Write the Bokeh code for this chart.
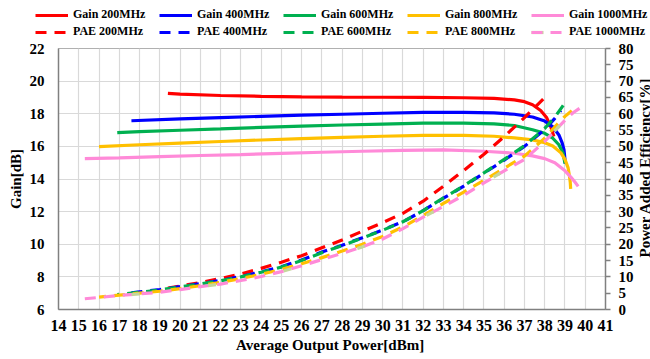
import math
from bokeh.plotting import figure
from bokeh.layouts import column, row
from bokeh.models import (Range1d, LinearAxis, SingleIntervalTicker, Legend, LegendItem, Label)
from bokeh.embed import file_html
from bokeh.resources import INLINE

FONT = "Liberation Serif"

# ---------------- data ----------------
freq_labels = ["200MHz", "400MHz", "600MHz", "800MHz", "1000MHz"]
series_colors = ["#ff0000", "#0000ff", "#00b050", "#ffc000", "#ff8ad8"]

gain200_x = [19.4, 20, 22, 24, 26, 28, 30, 32, 34, 35.5, 36.5, 37.0, 37.4, 37.8, 38.1, 38.3, 38.45]
gain200_y = [19.25, 19.2, 19.12, 19.07, 19.04, 19.02, 19.01, 19.0, 18.98, 18.94, 18.85, 18.74, 18.55, 18.2, 17.75, 17.2, 16.6]

gain400_x = [17.6, 20, 22, 24, 26, 28, 30, 32, 34, 35.5, 36.5, 37.4, 38.0, 38.4, 38.7, 38.85, 38.95, 39.02]
gain400_y = [17.57, 17.68, 17.76, 17.84, 17.91, 17.97, 18.03, 18.08, 18.08, 18.05, 17.97, 17.8, 17.55, 17.2, 16.7, 16.25, 15.8, 14.95]

gain600_x = [16.9, 18, 20, 22, 24, 26, 28, 30, 32, 34, 35.5, 36.5, 37.4, 38.0, 38.4, 38.7, 38.9, 39.0]
gain600_y = [16.84, 16.9, 16.99, 17.07, 17.16, 17.24, 17.31, 17.37, 17.42, 17.43, 17.38, 17.28, 17.02, 16.8, 16.5, 16.1, 15.6, 14.95]

gain800_x = [16.0, 18, 20, 22, 24, 26, 28, 30, 32, 34, 35.5, 36.5, 37.4, 38.0, 38.4, 38.8, 39.0, 39.15, 39.22, 39.26, 39.28]
gain800_y = [15.98, 16.1, 16.2, 16.3, 16.39, 16.47, 16.55, 16.62, 16.68, 16.68, 16.62, 16.52, 16.4, 16.22, 16.02, 15.6, 15.2, 14.7, 14.2, 13.8, 13.4]

gain1000_x = [15.3, 17, 19, 21, 23, 25, 27, 29, 31, 33, 35, 36.5, 37.4, 38.0, 38.5, 39.0, 39.3, 39.5, 39.65]
gain1000_y = [15.25, 15.3, 15.37, 15.44, 15.5, 15.57, 15.64, 15.7, 15.76, 15.78, 15.7, 15.58, 15.42, 15.25, 15.0, 14.5, 14.1, 13.8, 13.55]

pae200_x = [19.4, 20, 21, 22, 23, 24, 25, 26, 27, 28, 29, 30, 31, 32, 33, 34, 35, 36, 37, 38.1]
pae200_y = [6.6, 7.2, 8.2, 9.5, 10.9, 12.6, 14.5, 16.5, 18.9, 21.3, 24.0, 26.6, 29.5, 33.2, 37.8, 42.6, 47.6, 53.0, 58.8, 65.6]

pae400_x = [17.6, 18, 19, 20, 21, 22, 23, 24, 25, 26, 27, 28, 29, 30, 31, 32, 33, 34, 35, 36, 37, 38, 38.5, 38.8]
pae400_y = [5.1, 5.4, 6.1, 7.0, 7.9, 8.9, 10.1, 11.5, 13.1, 15.2, 17.6, 19.7, 22.0, 24.4, 26.9, 30.3, 34.1, 37.8, 41.8, 45.8, 50.0, 55.2, 58.6, 61.0]

pae600_x = [16.9, 18, 19, 20, 21, 22, 23, 24, 25, 26, 27, 28, 29, 30, 31, 32, 33, 34, 35, 36, 37, 38, 38.5, 39.0]
pae600_y = [4.6, 5.3, 6.0, 6.9, 7.8, 8.8, 10.0, 11.4, 13.0, 15.0, 17.4, 19.6, 21.9, 24.3, 26.9, 30.3, 34.2, 37.9, 41.9, 46.0, 50.2, 55.5, 59.0, 63.3]

pae800_x = [16.0, 17, 18, 19, 20, 21, 22, 23, 24, 25, 26, 27, 28, 29, 30, 31, 32, 33, 34, 35, 36, 37, 38, 38.5, 39.0, 39.35]
pae800_y = [3.8, 4.4, 5.0, 5.6, 6.4, 7.3, 8.3, 9.5, 10.8, 12.3, 14.0, 15.9, 17.9, 20.0, 22.4, 25.3, 28.8, 32.5, 36.0, 39.6, 43.3, 47.0, 52.5, 56.0, 59.2, 61.0]

pae1000_x = [15.3, 16, 17, 18, 19, 20, 21, 22, 23, 24, 25, 26, 27, 28, 29, 30, 31, 32, 33, 34, 35, 36, 37, 38, 38.5, 39.0, 39.4, 39.75]
pae1000_y = [3.3, 3.7, 4.3, 4.8, 5.3, 6.1, 7.0, 7.8, 8.9, 10.1, 11.6, 13.4, 15.3, 17.2, 19.2, 21.6, 24.8, 28.3, 31.6, 35.0, 38.8, 42.5, 46.0, 51.5, 54.8, 58.0, 60.3, 61.8]

x_title = "Average Output  Power[dBm]"
y_title = "Gain[dB]"
y2_title = "Power Added Efficiency[%]"

gain_x = [gain200_x, gain400_x, gain600_x, gain800_x, gain1000_x]
gain_y = [gain200_y, gain400_y, gain600_y, gain800_y, gain1000_y]
pae_x = [pae200_x, pae400_x, pae600_x, pae800_x, pae1000_x]
pae_y = [pae200_y, pae400_y, pae600_y, pae800_y, pae1000_y]

W = 650
LEG_H = 40
MAIN_H = 319
MAIN_W = 636
SIDE_W = W - MAIN_W

def no_align(fig):
    try:
        fig.frame_align = False
    except Exception:
        pass

# ---------------- main figure ----------------
p = figure(width=MAIN_W, height=MAIN_H, output_backend="svg", toolbar_location=None,
           x_range=Range1d(14, 41), y_range=Range1d(6, 22),
           min_border_left=58, min_border_right=31, min_border_top=8, min_border_bottom=50)
no_align(p)
p.extra_y_ranges = {"pae": Range1d(0, 80)}
p.background_fill_color = "white"
p.border_fill_color = "white"
p.outline_line_color = "#b0b0b0"
p.outline_line_width = 1

xt = SingleIntervalTicker(interval=1, num_minor_ticks=0)
yt = SingleIntervalTicker(interval=2, num_minor_ticks=0)
p.xaxis.ticker = xt
p.yaxis.ticker = yt
p.xgrid.ticker = xt
p.ygrid.ticker = yt
p.xgrid.grid_line_color = "#d9d9d9"
p.ygrid.grid_line_color = "#d9d9d9"
p.xgrid.grid_line_width = 1.2
p.ygrid.grid_line_width = 1.2

def style_axis(ax, size="15px"):
    ax.major_label_text_font = FONT
    ax.major_label_text_font_style = "bold"
    ax.major_label_text_font_size = size
    ax.major_label_text_color = "black"
    ax.axis_label_text_font = FONT
    ax.axis_label_text_font_style = "bold"
    ax.axis_label_text_font_size = "15px"
    ax.axis_label_text_color = "black"
    ax.axis_line_color = "#808080"
    ax.axis_line_width = 1.5
    ax.minor_tick_line_color = None

for ax in p.xaxis:
    style_axis(ax, "16px")
    ax.major_tick_out = 0
    ax.major_tick_in = 0
    ax.major_label_standoff = 10
    ax.axis_label = x_title
    ax.axis_label_standoff = 3

for ax in p.yaxis:
    style_axis(ax)
    ax.major_tick_out = 0
    ax.major_tick_in = 0
    ax.major_label_standoff = 14
    ax.axis_label = y_title
    ax.axis_label_standoff = 3

ax2 = LinearAxis(y_range_name="pae",
                 ticker=SingleIntervalTicker(interval=5, num_minor_ticks=0))
style_axis(ax2)
ax2.major_tick_out = 5
ax2.major_tick_in = 0
ax2.major_tick_line_color = "#808080"
ax2.major_tick_line_width = 1.5
ax2.major_label_standoff = 8
p.add_layout(ax2, "right")

for i in range(5):
    p.line(gain_x[i], gain_y[i], line_color=series_colors[i], line_width=3.2)

pae_offsets = [0, 0, 9, 4, 0]
for i in range(5):
    p.line(pae_x[i], pae_y[i], line_color=series_colors[i], line_width=3.2,
           line_dash="11 8", line_dash_offset=pae_offsets[i], y_range_name="pae")
# light olive dashes mixed into the PAE 1000MHz line
p.line(pae1000_x, pae1000_y, line_color="#c4d79b", line_width=3.2,
       line_dash="8 69", line_dash_offset=30, y_range_name="pae")

# ---------------- right strip holding the secondary axis title ----------------
rf = figure(width=SIDE_W, height=MAIN_H, output_backend="svg", toolbar_location=None,
            x_range=Range1d(0, SIDE_W), y_range=Range1d(0, MAIN_H),
            x_axis_location=None, y_axis_location=None,
            min_border_left=0, min_border_right=0, min_border_top=0, min_border_bottom=0)
no_align(rf)
rf.outline_line_color = None
rf.xgrid.visible = False
rf.ygrid.visible = False
rf.add_layout(Label(x=SIDE_W - 6, y=MAIN_H - 127, text=y2_title, angle=math.pi / 2,
                    text_align="center", text_baseline="alphabetic",
                    text_font=FONT, text_font_style="bold", text_font_size="15px",
                    text_color="black"))

# ---------------- legend strip (two rows of five) ----------------
lf = figure(width=W, height=LEG_H, output_backend="svg", toolbar_location=None,
            x_range=Range1d(0, 1), y_range=Range1d(0, 1),
            x_axis_location=None, y_axis_location=None,
            min_border_left=0, min_border_right=0, min_border_top=0, min_border_bottom=0)
no_align(lf)
lf.outline_line_color = None
lf.xgrid.visible = False
lf.ygrid.visible = False
lf.border_fill_color = "white"

# the same series drawn (outside this strip's ranges) only to feed the legend glyphs
gain_items, pae_items = [], []
for i in range(5):
    rg = lf.line(gain_x[i], gain_y[i], line_color=series_colors[i], line_width=3.2)
    gain_items.append(LegendItem(label="Gain " + freq_labels[i], renderers=[rg]))
    rs = [lf.line(pae_x[i], pae_y[i], line_color=series_colors[i], line_width=3.2, line_dash="11 8")]
    if i == 4:
        ro = lf.line(pae1000_x, pae1000_y, line_color="#c4d79b", line_width=3.2, line_dash="12 100")
        rs = [ro, rs[0]]
    pae_items.append(LegendItem(label="PAE " + freq_labels[i], renderers=rs))

def make_legend(items, vy):
    return Legend(items=items, orientation="horizontal", location=(35, vy),
                  glyph_width=33, glyph_height=14, label_width=86, label_height=14,
                  label_standoff=5, spacing=0, padding=0, margin=0,
                  border_line_color=None, background_fill_alpha=0,
                  label_text_font=FONT, label_text_font_style="bold",
                  label_text_font_size="12px", label_text_color="black")

lf.add_layout(make_legend(gain_items, 18))
lf.add_layout(make_legend(pae_items, 1))

layout = column(lf, row(p, rf, spacing=0), spacing=0)
open("out.html", "w").write(file_html(layout, INLINE))
